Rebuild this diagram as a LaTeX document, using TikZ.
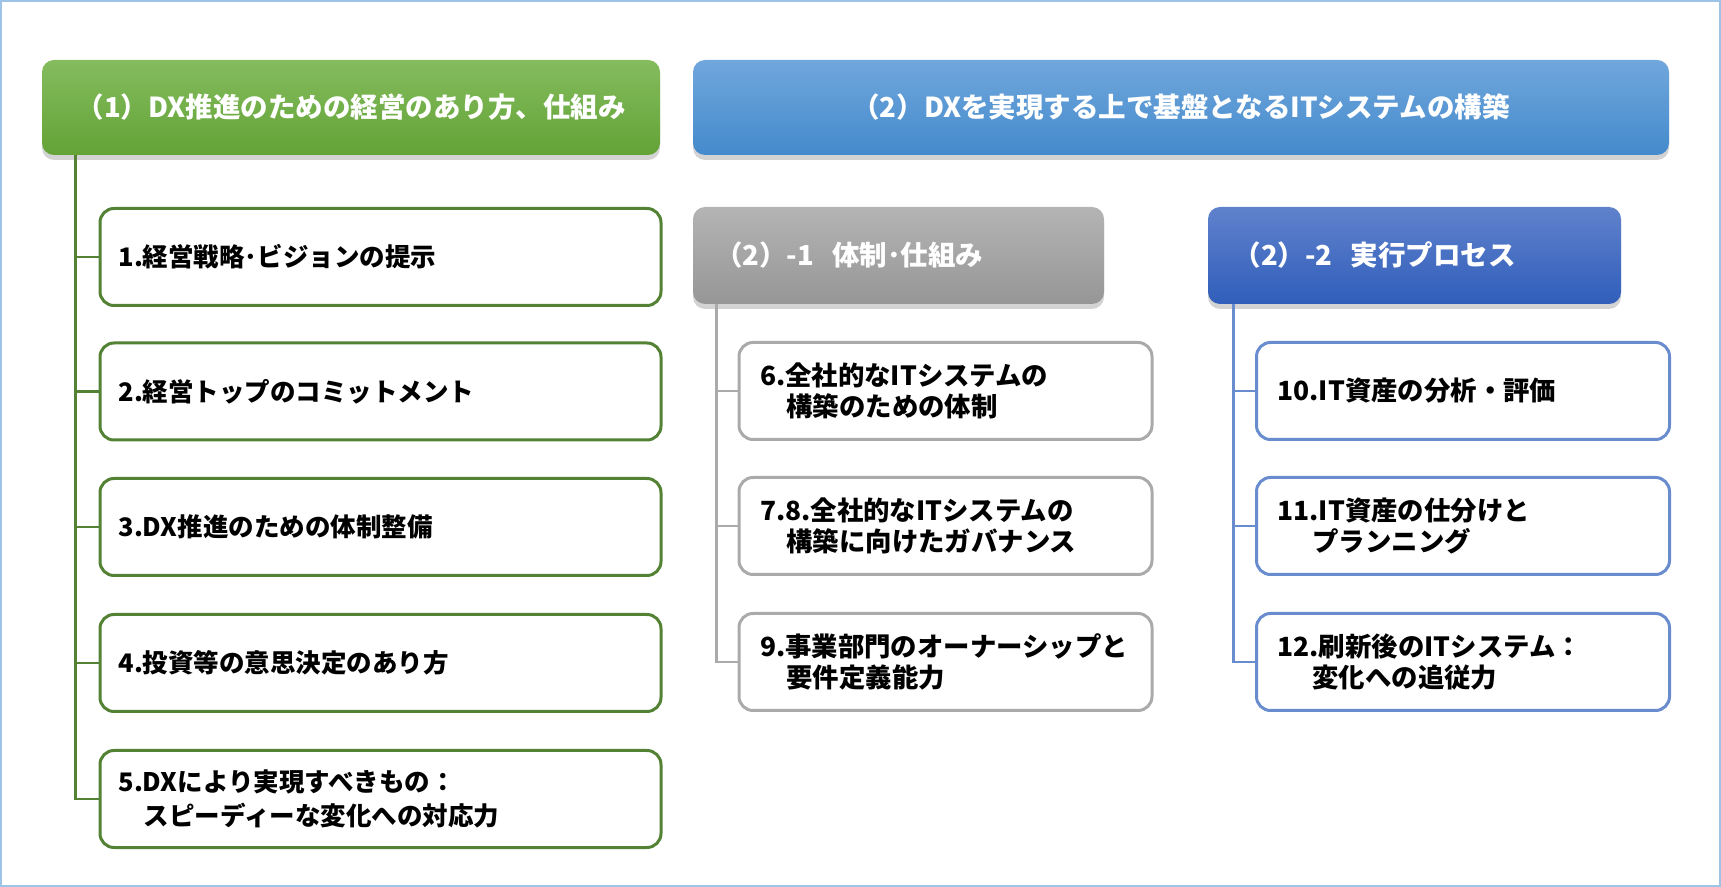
\documentclass[tikz,border=0pt]{standalone}
\usepackage{fontspec}
\setmainfont{Noto Sans CJK JP}
\usetikzlibrary{shadows}
\definecolor{gTop}{RGB}{132,188,94}
\definecolor{gBot}{RGB}{99,163,54}
\definecolor{bTop}{RGB}{112,167,220}
\definecolor{bBot}{RGB}{68,138,204}
\definecolor{sTop}{RGB}{180,180,180}
\definecolor{sBot}{RGB}{150,150,150}
\definecolor{dTop}{RGB}{96,130,204}
\definecolor{dBot}{RGB}{48,94,186}
\definecolor{gLine}{RGB}{84,130,53}
\definecolor{sLine}{RGB}{170,170,170}
\definecolor{dLine}{RGB}{104,140,206}
\definecolor{frameC}{RGB}{157,195,230}
\tikzset{
  hdr/.style={rounded corners=6pt, draw=none, text=white,
    font=\bfseries\fontsize{13.75}{16}\selectfont,
    drop shadow={opacity=0.35,shadow xshift=0pt,shadow yshift=-2.5pt},
    inner ysep=0pt, minimum height=47.5pt},
  gchild/.style={draw=gLine, line width=1.5pt, rounded corners=7pt, fill=white,
    minimum height=48.5pt, text width=262pt, inner xsep=9.25pt, inner ysep=0pt, align=left,
    font=\bfseries\fontsize{12.75}{17}\selectfont},
  schild/.style={draw=sLine, line width=1.5pt, rounded corners=7pt, fill=white,
    minimum height=48.5pt, text width=185.5pt, inner xsep=10.5pt, inner ysep=0pt, align=left,
    font=\bfseries\fontsize{13.2}{15.5}\selectfont},
  dchild/.style={schild, draw=dLine},
  gconn/.style={draw=gLine, line width=1.25pt},
  sconn/.style={draw=sLine, line width=1.25pt},
  dconn/.style={draw=dLine, line width=1.25pt},
}
\begin{document}
\begin{tikzpicture}[x=0.5pt,y=-0.5pt]
\useasboundingbox (0,0) rectangle (1721,887);
\draw[frameC, line width=0.75pt] (1,1) rectangle (1720,886);

% headers
\node[hdr, top color=gTop, bottom color=gBot, minimum width=309pt, align=center] (gh) at (351,107.5)
  {（1）DX推進のための経営のあり方、仕組み};
\node[hdr, top color=bTop, bottom color=bBot, minimum width=488pt, align=center] (bh) at (1181,107.5)
  {（2）DXを実現する上で基盤となるITシステムの構築};
\node[hdr, top color=sTop, bottom color=sBot, minimum height=48.5pt, text width=183.5pt, inner xsep=11pt, align=left] (sh) at (898.5,255.5)
  {（2）-1\hspace{9pt}体制･仕組み};
\node[hdr, top color=dTop, bottom color=dBot, minimum height=48.5pt, text width=181pt, inner xsep=12.75pt, align=left] (dh) at (1414.5,255.5)
  {（2）-2\hspace{9pt}実行プロセス};

% green children
\node[gchild] (g1) at (380.5,257) {1.経営戦略･ビジョンの提示};
\node[gchild] (g2) at (380.5,391.5) {2.経営トップのコミットメント};
\node[gchild] (g3) at (380.5,527) {3.DX推進のための体制整備};
\node[gchild] (g4) at (380.5,663) {4.投資等の意思決定のあり方};
\node[gchild] (g5) at (380.5,799) {5.DXにより実現すべきもの：\\　スピーディーな変化への対応力};

% gray children
\node[schild] (s1) at (945.5,391) {6.全社的なITシステムの\\　構築のための体制};
\node[schild] (s2) at (945.5,526) {7.8.全社的なITシステムの\\　構築に向けたガバナンス};
\node[schild] (s3) at (945.5,662) {9.事業部門のオーナーシップと\\　要件定義能力};

% blue children
\node[dchild] (d1) at (1463,391) {10.IT資産の分析・評価};
\node[dchild] (d2) at (1463,526) {11.IT資産の仕分けと\\\hspace*{17.5pt}プランニング};
\node[dchild] (d3) at (1463,662) {12.刷新後のITシステム：\\\hspace*{17.5pt}変化への追従力};

% connectors
\path (gh.south west) ++(34,0) coordinate (gT);
\draw[gconn] (gT) |- (g5.west);
\foreach \i in {1,2,3,4} \draw[gconn] (gT |- g\i.west) -- (g\i.west);

\path (sh.south west) ++(24,0) coordinate (sT);
\draw[sconn] (sT) |- (s3.west);
\foreach \i in {1,2} \draw[sconn] (sT |- s\i.west) -- (s\i.west);

\path (dh.south west) ++(26,0) coordinate (dT);
\draw[dconn] (dT) |- (d3.west);
\foreach \i in {1,2} \draw[dconn] (dT |- d\i.west) -- (d\i.west);
\end{tikzpicture}
\end{document}
